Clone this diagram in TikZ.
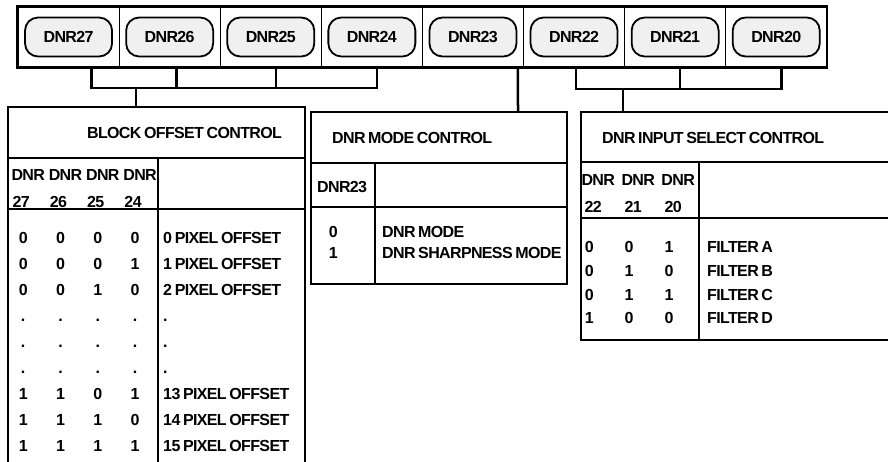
\documentclass[tikz,border=0pt]{standalone}
\usepackage{fontspec}
\setmainfont{Liberation Sans}[LetterSpace=-4,WordSpace=0.7]
\usepackage{tikz}

\newcommand{\tabfont}{\fontsize{16}{18}\selectfont\bfseries}
\newcommand{\bitbox}[2]{\makebox[#1]{#2}}
\newcommand{\blkbits}[5]{\bitbox{37.3pt}{#1}\bitbox{37.3pt}{#2}\bitbox{37.3pt}{#3}\bitbox{37.3pt}{#4}\hspace{9.5pt}\makebox[135pt][l]{#5}}
\newcommand{\modebits}[2]{\bitbox{40pt}{#1}\hspace{29pt}\makebox[180pt][l]{#2}}
\newcommand{\selbits}[4]{\bitbox{40pt}{#1}\bitbox{40pt}{#2}\bitbox{40pt}{#3}\hspace{18pt}\makebox[120pt][l]{#4}}

\begin{document}
\begin{tikzpicture}[x=1pt, y=1pt, node distance=101.1pt]
    \tikzstyle{cell} = [rectangle, draw, line width=0.8pt, minimum width=101.1pt, minimum height=60pt, inner sep=0pt]
    \tikzstyle{pill} = [rectangle, rounded corners=13pt, draw, line width=1.8pt, fill=gray!12, minimum width=87pt, minimum height=39pt, inner sep=0pt, font=\tabfont]
    \tikzstyle{heavy} = [line width=2.5pt]
    \tikzstyle{wire} = [line width=2.5pt]
    \tikzstyle{tabtext} = [inner sep=0pt, text height=11.5pt, text depth=0pt, font=\tabfont]
    \tikzstyle{lefttext} = [tabtext, anchor=west]
    \tikzstyle{blkline} = [lefttext, node distance=26pt]
    \tikzstyle{modeline} = [lefttext, node distance=21pt]
    \tikzstyle{selline} = [lefttext, node distance=23.7pt]

    \useasboundingbox (0,0) rectangle (888,-461);

    % register bits
    \node (c27) [cell] at (68.55,-37) {};
    \node (c26) [cell, right of=c27] {};
    \node (c25) [cell, right of=c26] {};
    \node (c24) [cell, right of=c25] {};
    \node (c23) [cell, right of=c24] {};
    \node (c22) [cell, right of=c23] {};
    \node (c21) [cell, right of=c22] {};
    \node (c20) [cell, right of=c21] {};
    \draw [heavy] (c27.north west) rectangle (c20.south east);

    \node (p27) [pill] at (c27) {DNR27};
    \node (p26) [pill] at (c26) {DNR26};
    \node (p25) [pill] at (c25) {DNR25};
    \node (p24) [pill] at (c24) {DNR24};
    \node (p23) [pill] at (c23) {DNR23};
    \node (p22) [pill] at (c22) {DNR22};
    \node (p21) [pill] at (c21) {DNR21};
    \node (p20) [pill] at (c20) {DNR20};

    % buses
    \coordinate (busL) at (136,-88);
    \coordinate (blkTop) at (136,-107);
    \coordinate (modeTop) at (518,-112);
    \coordinate (busR) at (623,-89);
    \coordinate (selTop) at (623,-112);

    \draw [wire] ([xshift=23pt]c27.south) |- (busL) -| ([xshift=5pt]c24.south);
    \draw [wire] ([xshift=7pt]c26.south) -- ([xshift=7pt]c26.south |- busL);
    \draw [wire] ([xshift=5pt]c25.south) -- ([xshift=5pt]c25.south |- busL);
    \draw [wire] (busL) -- (blkTop);
    \draw [wire] ([xshift=45pt]c23.south) -- (modeTop);
    \draw [wire] ([xshift=2pt]c22.south) |- (busR) -| ([xshift=5pt]c20.south);
    \draw [wire] ([xshift=5pt]c21.south) -- ([xshift=5pt]c21.south |- busR);
    \draw [wire] (busR) -- (selTop);

    % block offset table
    \draw [heavy] (8,-480) -- (8,-107) -- (305,-107) -- (305,-480);
    \draw [heavy] (8,-158) -- (305,-158);
    \draw [heavy] (8,-209) -- (305,-209);
    \draw [heavy] (158,-158) -- (158,-480);

    \node (blkT) [tabtext] at (184.5,-133) {BLOCK OFFSET CONTROL};
    \node (blkH) [lefttext] at (9.35,-175) {\blkbits{DNR}{DNR}{DNR}{DNR}{}};
    \node (blkN) [lefttext] at (2.35,-202) {\blkbits{27}{26}{25}{24}{}};
    \node (blk1) [blkline] at (4.35,-238) {\blkbits{0}{0}{0}{0}{0 PIXEL OFFSET}};
    \node (blk2) [blkline, below of=blk1] {\blkbits{0}{0}{0}{1}{1 PIXEL OFFSET}};
    \node (blk3) [blkline, below of=blk2] {\blkbits{0}{0}{1}{0}{2 PIXEL OFFSET}};
    \node (blk4) [blkline, below of=blk3] {\blkbits{.}{.}{.}{.}{.}};
    \node (blk5) [blkline, below of=blk4] {\blkbits{.}{.}{.}{.}{.}};
    \node (blk6) [blkline, below of=blk5] {\blkbits{.}{.}{.}{.}{.}};
    \node (blk7) [blkline, below of=blk6] {\blkbits{1}{1}{0}{1}{13 PIXEL OFFSET}};
    \node (blk8) [blkline, below of=blk7] {\blkbits{1}{1}{1}{0}{14 PIXEL OFFSET}};
    \node (blk9) [blkline, below of=blk8] {\blkbits{1}{1}{1}{1}{15 PIXEL OFFSET}};

    % mode table
    \draw [heavy] (311,-112) rectangle (567,-284);
    \draw [heavy] (311,-163) -- (567,-163);
    \draw [heavy] (311,-207) -- (567,-207);
    \draw [heavy] (375,-163) -- (375,-284);

    \node (modeT) [lefttext] at (332,-138) {DNR MODE CONTROL};
    \node (modeH) [lefttext] at (317,-187) {DNR23};
    \node (mode0) [modeline] at (313,-232) {\modebits{0}{DNR MODE}};
    \node (mode1) [modeline, below of=mode0] {\modebits{1}{DNR SHARPNESS MODE}};

    % input select table
    \draw [heavy] (581,-112) rectangle (900,-340);
    \draw [heavy] (581,-162) -- (900,-162);
    \draw [heavy] (581,-218) -- (900,-218);
    \draw [heavy] (699,-162) -- (699,-340);

    \node (selT) [lefttext] at (602,-138) {DNR INPUT SELECT CONTROL};
    \node (selH) [lefttext] at (578,-180) {\selbits{DNR}{DNR}{DNR}{}};
    \node (selN) [lefttext] at (573,-207) {\selbits{22}{21}{20}{}};
    \node (sel1) [selline] at (569,-247) {\selbits{0}{0}{1}{FILTER A}};
    \node (sel2) [selline, below of=sel1] {\selbits{0}{1}{0}{FILTER B}};
    \node (sel3) [selline, below of=sel2] {\selbits{0}{1}{1}{FILTER C}};
    \node (sel4) [selline, below of=sel3] {\selbits{1}{0}{0}{FILTER D}};
\end{tikzpicture}
\end{document}
